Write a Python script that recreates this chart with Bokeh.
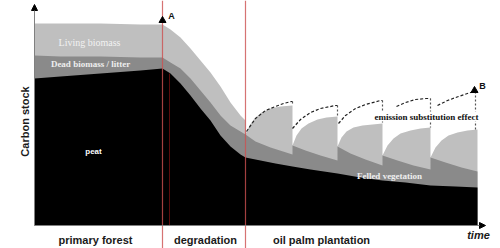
import math
from bokeh.plotting import figure
from bokeh.models import Range1d, Label, Arrow, NormalHead
from bokeh.embed import file_html
from bokeh.resources import INLINE

# ---- data (x = time, y = carbon stock, schematic units) ----
time_pre = [0, 26, 66, 106, 128, 136, 146, 156, 166, 176, 186, 196, 206, 211]
living_pre = [202, 202, 202, 201, 201, 196, 188, 177, 165, 153, 139, 123, 110, 105]
dead_pre = [170, 169, 169, 168, 168, 163, 157, 147, 135, 123, 110, 100, 94, 91]
peat_pre = [147, 149, 152, 155, 157, 152, 142, 130, 117, 105, 90, 79, 71, 68]

time_peat_plant = [226, 241, 258, 276, 303, 326, 348, 371, 396, 421, 443]
peat_plant = [65, 62, 59, 56, 52, 48, 45, 43, 40, 39, 38]

cycle_time = [
    [211, 215, 220, 227, 236, 246, 258],
    [258, 262, 267, 274, 283, 292, 303],
    [303, 307, 312, 319, 328, 338, 348],
    [348, 353, 359, 366, 376, 386, 396],
    [396, 401, 407, 414, 423, 433, 443],
]
cycle_living = [
    [91, 100, 107, 113, 117, 119, 120],
    [80, 90, 97, 102, 106, 108, 109],
    [79, 88, 94, 98, 100, 101, 102],
    [70, 80, 87, 92, 95, 97, 98],
    [68, 78, 85, 90, 93, 95, 96],
]
dead_time = [
    [211, 221, 236, 258],
    [258, 271, 286, 303],
    [303, 316, 331, 348],
    [348, 363, 379, 396],
    [396, 411, 427, 443],
]
cycle_dead = [
    [91, 84, 78, 71],
    [80, 75, 70, 65],
    [79, 72, 66, 60],
    [70, 65, 60, 56],
    [68, 63, 58, 54],
]

arc_time = [
    [212, 221, 231, 241, 249, 257, 258],
    [258, 266, 276, 286, 301, 303],
    [304, 311, 321, 331, 346, 348],
    [362, 371, 381, 391, 396],
    [403, 413, 424, 436, 441],
]
arc_stock = [
    [94, 107, 115, 119, 122, 124, 124],
    [97, 106, 113, 117, 120, 120],
    [102, 110, 117, 121, 125, 125],
    [119, 123, 126, 127, 127],
    [120, 125, 129, 133, 134],
]
drop_time = [258, 303, 348, 396, 441]
drop_top = [124, 120, 125, 127, 134]
drop_bottom = [120, 109, 102, 98, 95]

phase_bounds = [128, 211]
phase_labels = ["primary forest", "degradation", "oil palm plantation"]
phase_label_x = [61, 171, 287]

point_names = ["A", "B"]
point_time = [128, 440]
point_stock = [205, 135]

# ---- figure ----
p = figure(width=500, height=248, x_range=Range1d(-34, 466), y_range=Range1d(-23, 225),
           x_axis_type=None, y_axis_type=None, output_backend="svg",
           toolbar_location=None, min_border=0)
p.min_border_left = p.min_border_right = p.min_border_top = p.min_border_bottom = 0
p.outline_line_color = None
p.background_fill_color = "white"
p.border_fill_color = "white"

def flat(ll):
    out = []
    for l in ll:
        out += l
    return out

lx = time_pre + flat(cycle_time)
ly = living_pre + flat(cycle_living)
p.varea(x=lx, y1=[0] * len(lx), y2=ly, fill_color="#bfbfbf")

dx = time_pre + flat(dead_time)
dy = dead_pre + flat(cycle_dead)
p.varea(x=dx, y1=[0] * len(dx), y2=dy, fill_color="#8a8a8a")

px_ = time_pre + time_peat_plant
py_ = peat_pre + peat_plant
p.varea(x=px_, y1=[0] * len(px_), y2=py_, fill_color="black")

# phase boundaries
for b in phase_bounds:
    p.line(x=[b, b], y=[-23, 225], line_color="#cc5050", line_alpha=0.8, line_width=1.2)
p.line(x=[135, 135], y=[0, 152], line_color="#5a0c0c", line_width=1)

# emission substitution arcs
p.multi_line(xs=arc_time, ys=arc_stock, line_color="#222222", line_width=1.2, line_dash="3 2")
p.segment(x0=drop_time, y0=drop_top, x1=drop_time, y1=drop_bottom,
          line_color="#555555", line_width=1.2, line_dash="2 2")

# axes arrows
p.add_layout(Arrow(end=NormalHead(size=6, fill_color="black", line_color="black"),
                   x_start=0, y_start=0, x_end=0, y_end=221,
                   line_color="#808080", line_width=1))
p.add_layout(Arrow(end=NormalHead(size=6, fill_color="black", line_color="black"),
                   x_start=0, y_start=0, x_end=451, y_end=0,
                   line_color="#808080", line_width=1))

# points A, B
p.scatter(x=point_time, y=point_stock, marker="triangle", size=7, color="black")

SERIF = "Liberation Serif"
SANS = "Liberation Sans"

def lab(x, y, t, font, size, color="black", style="bold", angle=0.0, bg=None):
    kw = {}
    if bg is not None:
        kw["background_fill_color"] = bg
    p.add_layout(Label(x=x, y=y, text=t, text_font=font, text_font_size=size,
                       text_font_style=style, text_color=color, text_align="center",
                       text_baseline="middle", angle=angle, **kw))

lab(55, 183, "Living biomass", SERIF, "10px", "#f2f2f2", "normal")
lab(56, 162, "Dead biomass / litter", SERIF, "9px", "#eeeeee", "bold")
lab(59, 74, "peat", SANS, "8px", "#ffffff", "bold")
lab(392, 109, "emission substitution effect", SERIF, "9px", "#111111", "bold", bg="white")
lab(355, 50, "Felled vegetation", SERIF, "9px", "#eeeeee", "bold")
lab(-9.5, 104, "Carbon stock", SANS, "11px", "#1a1a1a", "bold", angle=math.pi / 2)
for t, x in zip(phase_labels, phase_label_x):
    lab(x, -14, t, SANS, "11px", "#1a1a1a", "bold")
lab(444, -9, "time", SANS, "11px", "#1a1a1a", "bold italic")
lab(137, 210, point_names[0], SANS, "9px", "#111111", "bold")
lab(448, 140, point_names[1], SANS, "9px", "#111111", "bold")

open("out.html", "w").write(file_html(p, INLINE))
